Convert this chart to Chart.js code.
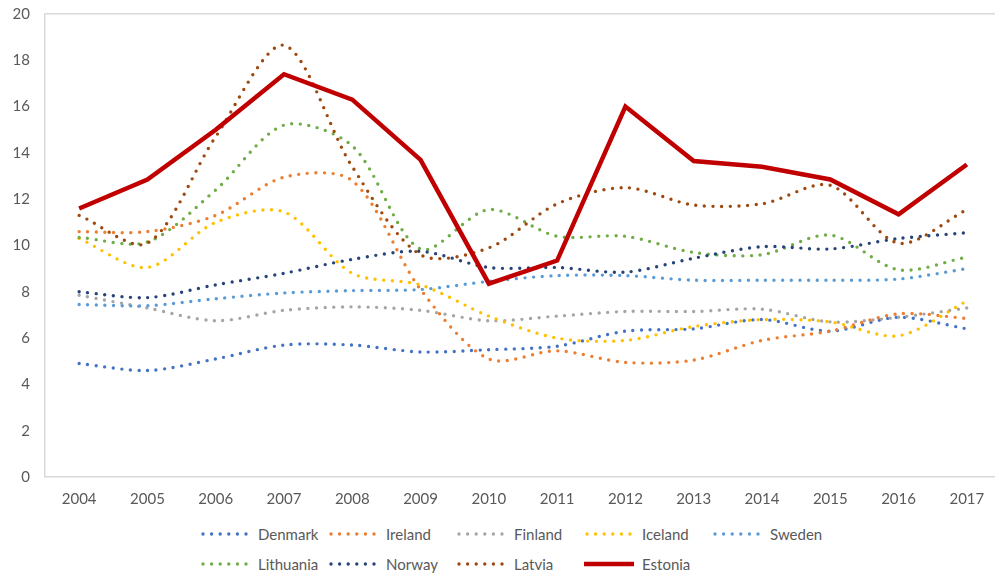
<!DOCTYPE html>
<html>
<head>
<meta charset="utf-8">
<script src="https://cdn.jsdelivr.net/npm/chart.js@4/dist/chart.umd.min.js"></script>
<style>
    html, body { margin: 0; padding: 0; background: #fff; overflow: hidden; }
    #wrap { position: relative; width: 1001px; height: 520px; margin-top: -10px; }
    #legend { position: absolute; left: 200px; top: 519px; font-family: Lato, sans-serif; font-size: 15px; color: #595959; }
    .row { display: flex; height: 30px; align-items: center; }
    .item { width: 128px; display: flex; align-items: center; white-space: nowrap; }
    .item svg { margin-right: 8px; }
</style>
</head>
<body>
<div id="wrap"><canvas id="myChart"></canvas></div>
<div id="legend"></div>
<script>
// Werte
var years = ["2004", "2005", "2006", "2007", "2008", "2009", "2010", "2011", "2012", "2013", "2014", "2015", "2016", "2017"];
var countries = ["Denmark", "Ireland", "Finland", "Iceland", "Sweden", "Lithuania", "Norway", "Latvia", "Estonia"];
var denmark = [4.9, 4.6, 5.1, 5.7, 5.7, 5.4, 5.5, 5.65, 6.3, 6.4, 6.8, 6.3, 6.9, 6.4];
var ireland = [10.6, 10.6, 11.3, 12.95, 12.8, 8.1, 5.1, 5.45, 4.95, 5.05, 5.9, 6.3, 7.05, 6.85];
var finland = [7.85, 7.3, 6.75, 7.2, 7.35, 7.2, 6.75, 6.95, 7.15, 7.15, 7.25, 6.7, 6.9, 7.3];
var iceland = [10.3, 9.05, 11.0, 11.45, 8.8, 8.3, 6.95, 6.0, 5.9, 6.5, 6.8, 6.7, 6.1, 7.6];
var sweden = [7.45, 7.4, 7.7, 7.95, 8.05, 8.1, 8.45, 8.7, 8.7, 8.5, 8.5, 8.5, 8.55, 9.0];
var lithuania = [10.35, 10.15, 12.4, 15.2, 14.3, 9.85, 11.55, 10.4, 10.4, 9.7, 9.6, 10.45, 8.95, 9.5];
var norway = [8.0, 7.75, 8.3, 8.8, 9.4, 9.75, 9.05, 9.05, 8.85, 9.45, 9.95, 9.85, 10.3, 10.55];
var latvia = [11.3, 10.1, 14.7, 18.65, 13.4, 9.6, 9.9, 11.8, 12.5, 11.75, 11.8, 12.6, 10.1, 11.55];
var estonia = [11.6, 12.85, 15.0, 17.4, 16.3, 13.7, 8.35, 9.35, 16.0, 13.65, 13.4, 12.85, 11.35, 13.5];
var yTicks = [0, 2, 4, 6, 8, 10, 12, 14, 16, 18, 20];

var seriesValues = [denmark, ireland, finland, iceland, sweden, lithuania, norway, latvia, estonia];
var lineColors = ["#4472C4", "#ED7D31", "#A5A5A5", "#FFC000", "#5B9BD5", "#70AD47", "#264478", "#9E480E", "#C00000"];

Chart.defaults.font.family = "Lato, sans-serif";
Chart.defaults.font.size = 15;
Chart.defaults.color = "#595959";

var datasets = [];
for (var i = 0; i < countries.length; i++) {
    var solid = countries[i] === "Estonia";
    datasets.push({
        label: countries[i],
        data: seriesValues[i],
        borderColor: lineColors[i],
        backgroundColor: lineColors[i],
        borderWidth: solid ? 4.5 : 3.4,
        borderDash: solid ? [] : [0, 8.6],
        borderCapStyle: solid ? "butt" : "round",
        borderJoinStyle: "miter",
        tension: solid ? 0 : 0.3,
        pointRadius: 0,
        order: -i
    });
}

new Chart("myChart", {
    type: "line",
    data: { labels: years, datasets: datasets },
    options: {
        responsive: true,
        maintainAspectRatio: false,
        animation: false,
        layout: { padding: { top: 0, left: 0, right: 0, bottom: 0 } },
        plugins: { legend: { display: false }, tooltip: { enabled: false } },
        scales: {
            x: {
                offset: true,
                grid: { display: false, drawTicks: false },
                border: { color: "#d9d9d9", width: 1.5 },
                ticks: { padding: 13, maxRotation: 0 },
                afterFit: function (scale) { scale.height = 33; }
            },
            y: {
                min: 0,
                max: 20,
                afterBuildTicks: function (scale) {
                    scale.ticks = yTicks.map(function (v) { return { value: v }; });
                },
                grid: {
                    drawTicks: false,
                    lineWidth: 1.5,
                    color: function (ctx) { return ctx.tick && ctx.tick.value === 20 ? "#d9d9d9" : "transparent"; }
                },
                border: { color: "#d9d9d9", width: 1.5 },
                ticks: { padding: 15 },
                afterFit: function (scale) { scale.width = 45; }
            }
        }
    }
});

// Legende als HTML
var legendHtml = "";
var rows = [[0, 1, 2, 3, 4], [5, 6, 7, 8]];
rows.forEach(function (row) {
    legendHtml += '<div class="row">';
    row.forEach(function (k) {
        var solid = countries[k] === "Estonia";
        var line = solid
            ? '<line x1="0" y1="5" x2="50" y2="5" stroke="' + lineColors[k] + '" stroke-width="4.5"/>'
            : '<line x1="3" y1="5" x2="47" y2="5" stroke="' + lineColors[k] + '" stroke-width="3.4" stroke-linecap="round" stroke-dasharray="0 8.6"/>';
        legendHtml += '<div class="item"><svg width="50" height="10">' + line + '</svg><span>' + countries[k] + '</span></div>';
    });
    legendHtml += '</div>';
});
document.getElementById("legend").innerHTML = legendHtml;
</script>
</body>
</html>
